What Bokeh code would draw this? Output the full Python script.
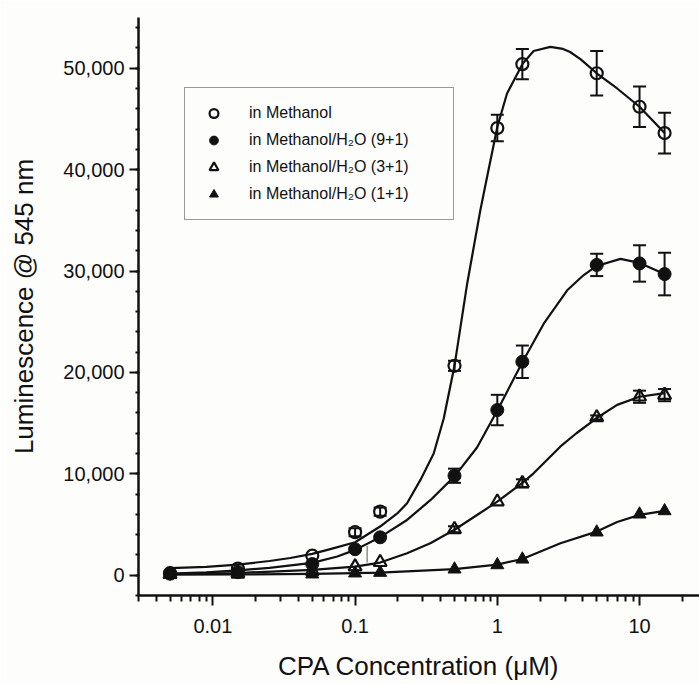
from bokeh.plotting import figure
from bokeh.models import (Range1d, FixedTicker, NumeralTickFormatter, CustomJSTickFormatter,
                          Whisker, TeeHead, ColumnDataSource, Legend, LegendItem)
from bokeh.embed import file_html
from bokeh.resources import INLINE

# ---- data ----
conc = [0.005, 0.015, 0.05, 0.1, 0.15, 0.5, 1, 1.5, 5, 10, 15]

meoh_y   = [200, 650, 1930, 4240, 6270, 20650, 44100, 50400, 49500, 46200, 43600]
meoh_err = [0, 0, 0, 400, 400, 500, 1300, 1500, 2200, 2000, 2000]

m91_y   = [150, 300, 1100, 2560, 3740, 9810, 16290, 21050, 30600, 30750, 29700]
m91_err = [0, 0, 0, 0, 0, 700, 1500, 1600, 1100, 1800, 2100]

m31_y   = [100, 200, 400, 850, 1280, 4530, 7250, 9060, 15560, 17600, 17760]
m31_err = [0, 0, 0, 0, 0, 300, 0, 400, 200, 600, 600]

m11_y   = [50, 80, 100, 200, 260, 590, 1010, 1570, 4240, 6010, 6340]
m11_err = [0, 0, 0, 0, 0, 0, 0, 0, 0, 0, 0]

# fitted curves
meoh_fit_x = [0.005, 0.009, 0.015, 0.025, 0.035, 0.05, 0.07, 0.1, 0.15, 0.2, 0.232, 0.288, 0.357,
              0.42, 0.5, 0.613, 0.76, 0.848, 1.0, 1.17, 1.5, 1.8, 2.36, 2.9, 3.25, 3.84, 5, 6.96,
              10, 15]
meoh_fit_y = [700, 830, 1050, 1400, 1700, 2100, 2650, 3250, 4800, 6150, 7100, 9400, 12000,
              15450, 20650, 28700, 36000, 39300, 44200, 47500, 50400, 51700, 52100, 51900, 51600,
              50900, 49500, 48000, 46200, 43600]

m91_fit_x = [0.005, 0.009, 0.015, 0.025, 0.05, 0.075, 0.1, 0.15, 0.232, 0.338, 0.5, 0.72, 1.0,
             1.5, 2.12, 3.1, 4.05, 5, 7.34, 10, 15]
m91_fit_y = [150, 280, 480, 720, 1220, 1850, 2500, 3750, 5450, 7400, 9750, 12600, 16250,
             21000, 24800, 28100, 29600, 30500, 31200, 30800, 29700]

m31_fit_x = [0.005, 0.015, 0.05, 0.1, 0.15, 0.232, 0.338, 0.5, 0.72, 1.0, 1.5, 1.8, 2.78,
             3.6, 5, 6.96, 10, 15]
m31_fit_y = [100, 220, 530, 850, 1250, 2170, 3150, 4480, 5940, 7250, 9100, 10050, 12700,
             14000, 15500, 16800, 17600, 17950]

m11_fit_x = [0.005, 0.015, 0.05, 0.1, 0.15, 0.5, 1.0, 1.5, 2.78, 5, 6.96, 10, 15]
m11_fit_y = [50, 80, 130, 200, 250, 600, 1050, 1600, 3150, 4300, 5250, 5950, 6350]

# thin stray stroke seen near x = 0.12
stray_x = [0.1215]
stray_y0 = [1250]
stray_y1 = [2900]

labels = ["in Methanol", "in Methanol/H\u2082O (9+1)", "in Methanol/H\u2082O (3+1)", "in Methanol/H\u2082O (1+1)"]

x_major = [0.01, 0.1, 1, 10]
y_major = [0, 10000, 20000, 30000, 40000, 50000]

# ---- figure ----
INK = "#111111"
BG = "#fdfdfc"
FONT = "Liberation Sans"

p = figure(width=699, height=684, x_axis_type="log",
           x_range=Range1d(0.003, 26.4), y_range=Range1d(-2000, 55000),
           output_backend="svg", toolbar_location=None,
           min_border_left=138, min_border_right=0, min_border_top=17, min_border_bottom=89,
           background_fill_color=BG, border_fill_color=BG)
p.outline_line_color = None
p.xgrid.visible = False
p.ygrid.visible = False

# ticks
x_minor = []
for dec in [0.001, 0.01, 0.1, 1, 10]:
    for m in range(2, 10):
        x_minor.append(dec * m)
p.xaxis.ticker = FixedTicker(ticks=x_major, minor_ticks=x_minor)
p.xaxis.formatter = CustomJSTickFormatter(code="return tick.toString()")
p.yaxis.ticker = FixedTicker(ticks=y_major, minor_ticks=list(range(-2000, 55001, 2000)))
p.yaxis.formatter = NumeralTickFormatter(format="0,0")

for ax in (p.xaxis[0], p.yaxis[0]):
    ax.axis_line_color = INK
    ax.axis_line_width = 2.5
    ax.major_tick_line_color = INK
    ax.major_tick_line_width = 2
    ax.minor_tick_line_color = INK
    ax.minor_tick_line_width = 2
    ax.major_tick_in = 0
    ax.major_label_text_font = FONT
    ax.major_label_text_font_size = "20px"
    ax.major_label_text_color = INK
    ax.axis_label_text_font = FONT
    ax.axis_label_text_font_size = "26px"
    ax.axis_label_text_font_style = "normal"
    ax.axis_label_text_color = INK

p.xaxis.major_tick_out = 10
p.xaxis.minor_tick_out = 6
p.xaxis.minor_tick_in = 0
p.xaxis.major_label_standoff = 13
p.xaxis.axis_label = "CPA Concentration (\u03bcM)"
p.xaxis.axis_label_standoff = 15

p.yaxis.major_tick_out = 9
p.yaxis.minor_tick_out = 3
p.yaxis.minor_tick_in = 1
p.yaxis.major_label_standoff = 5
p.yaxis.axis_label = "Luminescence @ 545 nm"
p.yaxis.axis_label_standoff = 21

# fitted curves
for fx, fy in [(meoh_fit_x, meoh_fit_y), (m91_fit_x, m91_fit_y), (m31_fit_x, m31_fit_y), (m11_fit_x, m11_fit_y)]:
    p.line(fx, fy, line_color=INK, line_width=2.2, line_join="round")

p.segment(x0=stray_x, y0=stray_y0, x1=stray_x, y1=stray_y1, line_color="#555555", line_width=1)

# error bars
for ys, es in [(meoh_y, meoh_err), (m91_y, m91_err), (m31_y, m31_err), (m11_y, m11_err)]:
    xs = [x for x, e in zip(conc, es) if e > 0]
    yy = [y for y, e in zip(ys, es) if e > 0]
    ee = [e for e in es if e > 0]
    if not xs:
        continue
    src = ColumnDataSource(dict(x=xs, upper=[y + e for y, e in zip(yy, ee)], lower=[y - e for y, e in zip(yy, ee)]))
    w = Whisker(source=src, base="x", upper="upper", lower="lower", dimension="height",
                line_color=INK, line_width=2,
                upper_head=TeeHead(size=13, line_color=INK, line_width=2),
                lower_head=TeeHead(size=13, line_color=INK, line_width=2))
    p.add_layout(w)

# markers
r1 = p.scatter(conc, meoh_y, marker="circle", size=12, line_color=INK, line_width=2.2, fill_color=None)
r2 = p.scatter(conc, m91_y, marker="circle", size=13, line_color=INK, line_width=1, fill_color=INK)
r3 = p.scatter(conc, m31_y, marker="triangle", size=13, line_color=INK, line_width=2.2, fill_color=None)
r4 = p.scatter(conc, m11_y, marker="triangle", size=13, line_color=INK, line_width=1, fill_color=INK)

legend = Legend(items=[LegendItem(label=labels[0], renderers=[r1]),
                       LegendItem(label=labels[1], renderers=[r2]),
                       LegendItem(label=labels[2], renderers=[r3]),
                       LegendItem(label=labels[3], renderers=[r4])],
                location=(46, 375), margin=0, padding=14, spacing=5,
                glyph_width=29, glyph_height=22, label_standoff=21, label_width=190, label_height=22,
                label_text_font=FONT, label_text_font_size="16px", label_text_color=INK,
                border_line_color="#333333", border_line_width=1.5,
                background_fill_color=BG, background_fill_alpha=1.0)
p.add_layout(legend)

open("out.html", "w").write(file_html(p, INLINE))
